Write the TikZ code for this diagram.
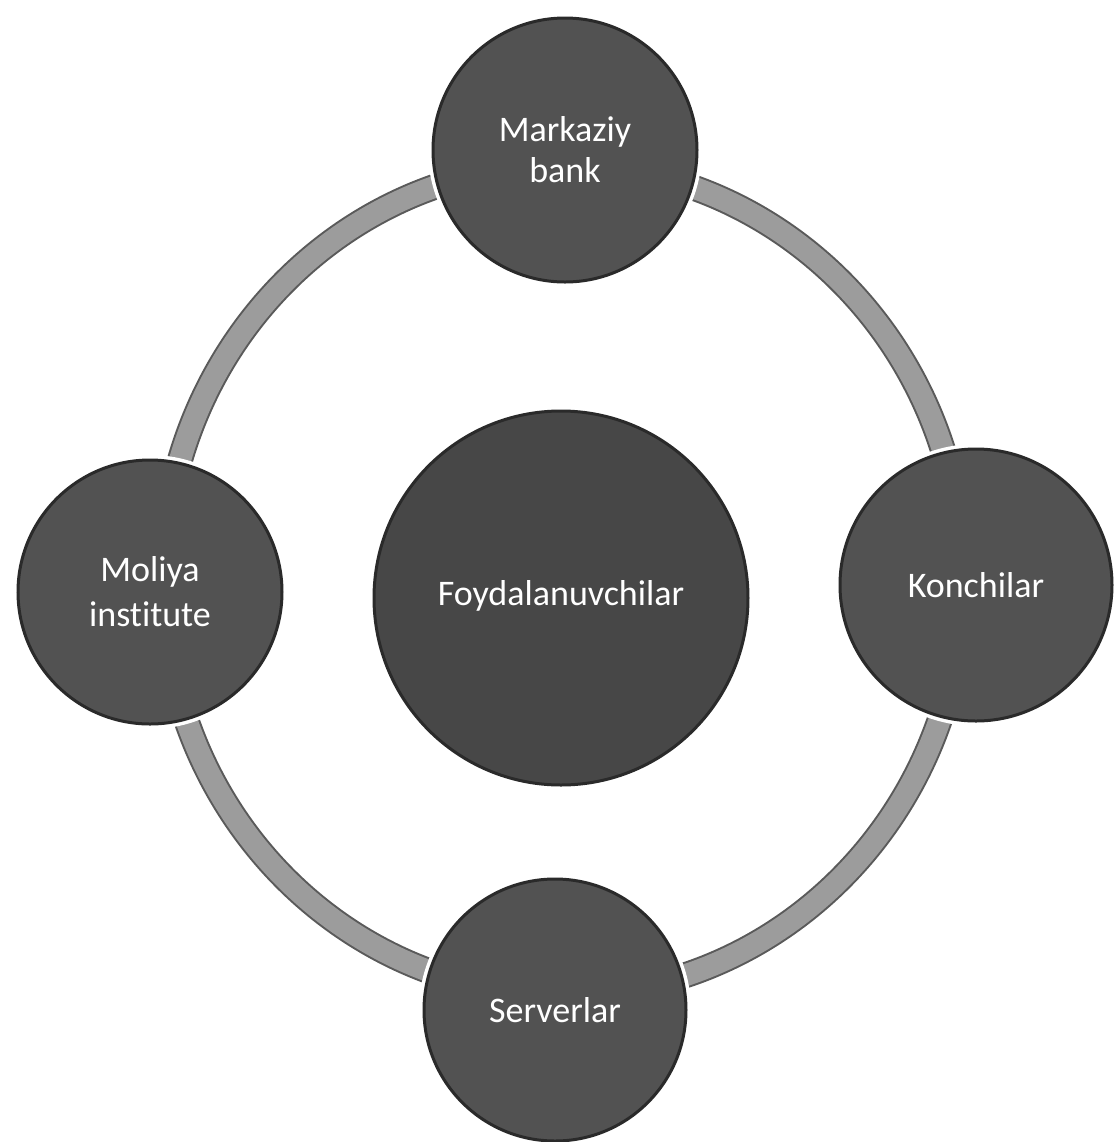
\documentclass[tikz,border=0pt]{standalone}
\usepackage{fontspec}
\setmainfont{Carlito}[Ligatures=NoCommon]
\definecolor{orbfill}{HTML}{525252}
\definecolor{centrefill}{HTML}{474747}
\definecolor{orbedge}{HTML}{2A2A2A}
\definecolor{bandfill}{HTML}{9C9C9C}
\definecolor{bandedge}{HTML}{5A5A5A}
\begin{document}
\begin{tikzpicture}[x=0.5pt,y=-0.5pt,
  orb/.style={circle, draw=orbedge, line width=1.5pt, fill=orbfill,
    preaction={draw=white, line width=5pt},
    text=white, font=\fontsize{18}{22.5}\selectfont, align=center, inner sep=0pt},
  centreorb/.style={orb, fill=centrefill},
  bandline/.style={draw=bandedge, line width=13pt},
  bandcore/.style={draw=bandfill, line width=11pt}]
\useasboundingbox (0,0) rectangle (1114,1142);
\fill[white] (0,0) rectangle (1114,1142);
\coordinate (ringc) at (563,580);
\draw[bandline] (ringc) ellipse [x radius=200pt, y radius=207.5pt];
\draw[bandcore] (ringc) ellipse [x radius=200pt, y radius=207.5pt];
\node[orb, minimum size=132pt] (bank) at (565,150) {\raisebox{-3pt}{\shortstack{Markaziy\\[2pt]bank}}};
\node[orb, minimum size=132pt] (moliya) at (150,592) {Moliya\\institute};
\node[orb, minimum size=136pt] (kon) at (976,585) {Konchilar};
\node[orb, minimum size=131pt] (serv) at (555,1010) {Serverlar};
\node[centreorb, minimum size=187pt] (foy) at (561,598) {\raisebox{5pt}{Foydalanuvchilar}};
\end{tikzpicture}
\end{document}
